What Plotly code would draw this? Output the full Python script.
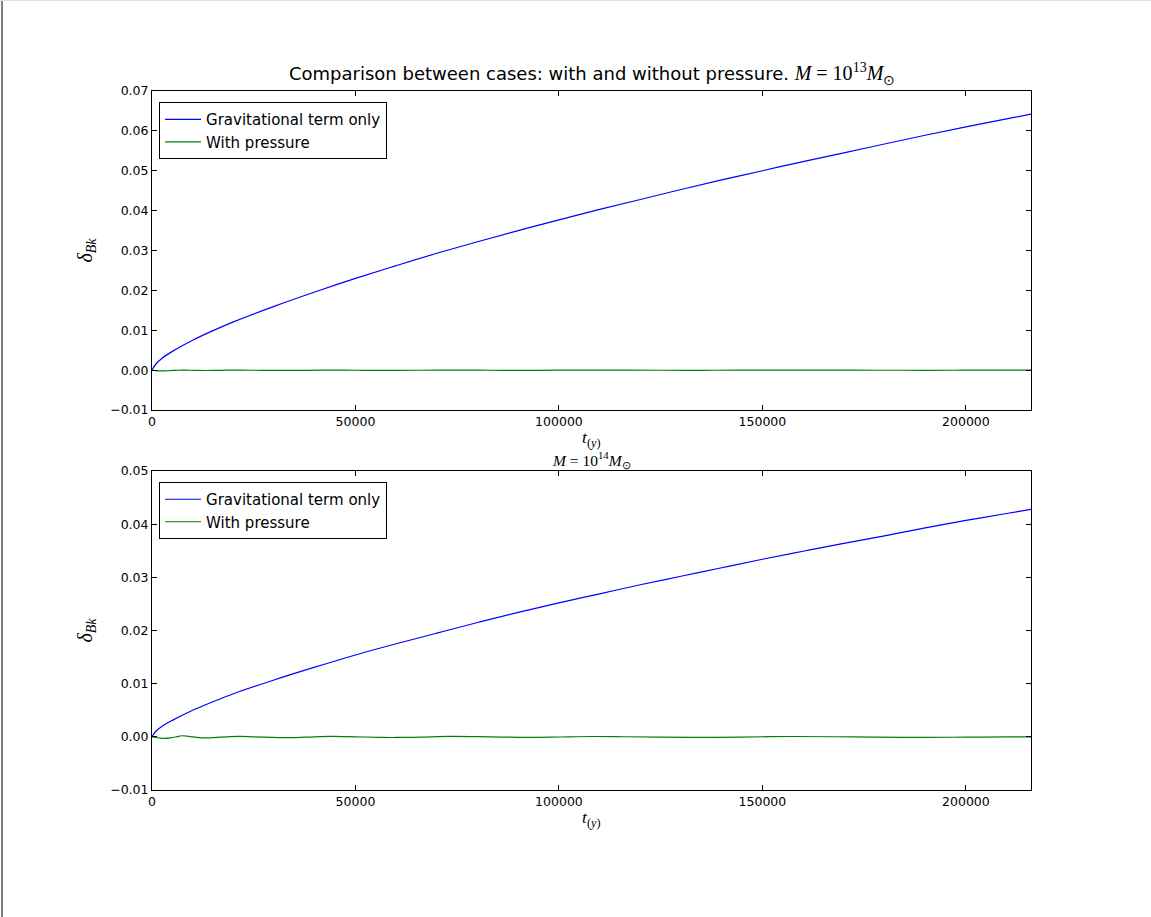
import plotly.graph_objects as go
from plotly.subplots import make_subplots

# ---- data (time in years) ----
t_blue = [0, 1000, 2500, 5000, 10000, 15000, 20000, 30000, 40000, 50000, 60000, 70000,
          80000, 90000, 100000, 110000, 120000, 130000, 140000, 150000, 160000, 170000,
          180000, 190000, 200000, 210000, 216000]
grav_13 = [0.0, 0.0016, 0.0030, 0.0047, 0.0075, 0.0099, 0.0121, 0.0160, 0.0196, 0.0230,
           0.0262, 0.0293, 0.0322, 0.0350, 0.0377, 0.0403, 0.0428, 0.0453, 0.0477, 0.0500,
           0.0523, 0.0545, 0.0567, 0.0589, 0.0610, 0.0630, 0.0642]
grav_14 = [0.0, 0.0011, 0.0020, 0.0031, 0.0050, 0.0066, 0.0081, 0.0107, 0.0131, 0.0154,
           0.0175, 0.0195, 0.0215, 0.0234, 0.0252, 0.0269, 0.0286, 0.0302, 0.0318, 0.0334,
           0.0349, 0.0364, 0.0378, 0.0393, 0.0407, 0.0420, 0.0428]

t_green = [0, 1000, 2000, 3200, 4500, 6000, 7300, 9000, 11000, 13400, 16000, 18500, 21500,
           25000, 29000, 33000, 38000, 44000, 50000, 56000, 60000, 66000, 73000, 80000,
           86000, 93000, 100000, 108000, 116000, 125000, 135000, 145000, 157000, 168000,
           178000, 190000, 200000, 210000, 216000]
press_14 = [0.0, -0.0001, -0.00025, -0.0003, -0.0002, 0.0, 0.0002, 0.0001, -0.0001, -0.0002,
            -0.0001, 0.0, 0.0001, 0.0, -0.0001, -0.00015, -0.00005, 0.00008, 0.0, -0.0001,
            -0.00012, -0.00005, 0.00008, 0.00003, -0.00005, -0.0001, -0.00003, 0.00006,
            0.00002, -0.00005, -0.0001, -0.00004, 0.00006, 0.00002, -0.00005, -0.0001,
            -0.00006, -0.00002, 0.0]
press_13 = [0.0, -0.00015, -0.0002, -0.0002, -0.00012, -0.00005, 0.0, -0.00003, -0.00008,
            -0.0001, -0.00006, -0.00002, 0.0, -0.00003, -0.00008, -0.00008, -0.00004, 0.0,
            -0.00003, -0.00006, -0.00006, -0.00003, 0.0, -0.00002, -0.00004, -0.00005,
            -0.00002, 0.0, -0.00001, -0.00003, -0.00004, -0.00002, 0.0, -0.00001, -0.00003,
            -0.00004, -0.00002, -0.00001, 0.0]

xticks = [0, 50000, 100000, 150000, 200000]
x_range = [0, 216000]
y_range_top = [-0.01, 0.07]
y_range_bot = [-0.01, 0.05]

BLUE = "#0000ff"
GREEN = "#008000"
SANS = "DejaVu Sans"
SERIF = "Liberation Serif"

fig = make_subplots(rows=2, cols=1, vertical_spacing=61 / 699)

fig.add_trace(go.Scatter(x=t_blue, y=grav_13, mode="lines", line=dict(color=BLUE, width=1.2, shape="spline"),
                         name="Gravitational term only", legend="legend"), row=1, col=1)
fig.add_trace(go.Scatter(x=t_green, y=press_13, mode="lines", line=dict(color=GREEN, width=1.2, shape="spline"),
                         name="With pressure", legend="legend"), row=1, col=1)
fig.add_trace(go.Scatter(x=t_blue, y=grav_14, mode="lines", line=dict(color=BLUE, width=1.2, shape="spline"),
                         name="Gravitational term only", legend="legend2"), row=2, col=1)
fig.add_trace(go.Scatter(x=t_green, y=press_14, mode="lines", line=dict(color=GREEN, width=1.2, shape="spline"),
                         name="With pressure", legend="legend2"), row=2, col=1)

axis_common = dict(showline=True, linecolor="black", linewidth=1, mirror="allticks",
                   ticks="inside", ticklen=5, tickcolor="black", tickwidth=1,
                   showgrid=False, zeroline=False,
                   tickfont=dict(family=SANS, size=12.5, color="black"))

for r in (1, 2):
    fig.update_xaxes(range=x_range, tickvals=xticks, tickformat="d", row=r, col=1, **axis_common)
fig.update_yaxes(range=y_range_top, dtick=0.01, tick0=0, tickformat=".2f", row=1, col=1, **axis_common)
fig.update_yaxes(range=y_range_bot, dtick=0.01, tick0=0, tickformat=".2f", row=2, col=1, **axis_common)
for r in (1, 2):
    fig.update_yaxes(title=dict(text="<i>δ</i><sub><i>Bk</i></sub>",
                                font=dict(family=SERIF, size=20, color="black"), standoff=12),
                     row=r, col=1)

legend_style = dict(bgcolor="white", bordercolor="black", borderwidth=1,
                    font=dict(family=SANS, size=15, color="black"),
                    xanchor="left", yanchor="top", itemwidth=36, tracegroupgap=0)

xtitle = "<i>t</i><sub>(<i>y</i>)</sub>"

fig.update_layout(
    width=1151, height=917,
    margin=dict(l=152, r=120, t=91, b=127),
    paper_bgcolor="white", plot_bgcolor="white",
    showlegend=True,
    legend=dict(x=0.008, y=0.984, **legend_style),
    legend2=dict(x=0.008, y=0.4406, **legend_style),
    annotations=[
        dict(text="Comparison between cases: with and without pressure. "
                  "<span style=\"font-family:'Liberation Serif';font-size:20px\"><i>M</i> = 10<sup>13</sup><i>M</i><sub>⊙</sub></span>",
             xref="paper", yref="paper", x=0.5, y=1.0, xanchor="center", yanchor="bottom",
             yshift=1, showarrow=False, font=dict(family=SANS, size=18, color="black")),
        dict(text="<i>M</i> = 10<sup>14</sup><i>M</i><sub>⊙</sub>",
             xref="paper", yref="paper", x=0.5, y=319 / 699, xanchor="center", yanchor="bottom",
             yshift=-2, showarrow=False, font=dict(family=SERIF, size=15.5, color="black")),
        dict(text=xtitle, xref="paper", yref="paper", x=0.5, y=(790 - 438) / 699,
             xanchor="center", yanchor="middle", showarrow=False,
             font=dict(family=SERIF, size=17.5, color="black")),
        dict(text=xtitle, xref="paper", yref="paper", x=0.5, y=(790 - 818) / 699,
             xanchor="center", yanchor="middle", showarrow=False,
             font=dict(family=SERIF, size=17.5, color="black")),
    ],
    shapes=[
        dict(type="line", xref="paper", yref="paper", x0=(2 - 152) / 879, x1=(2 - 152) / 879,
             y0=(790 - 917) / 699, y1=(790 - 0) / 699, line=dict(color="#555555", width=1.5)),
        dict(type="line", xref="paper", yref="paper", x0=(0 - 152) / 879, x1=(1151 - 152) / 879,
             y0=(790 - 0.5) / 699, y1=(790 - 0.5) / 699, line=dict(color="#dddddd", width=1)),
    ],
)

fig.write_html("out.html", config={"displayModeBar": False},
               post_script="document.body.style.margin='0px';")
